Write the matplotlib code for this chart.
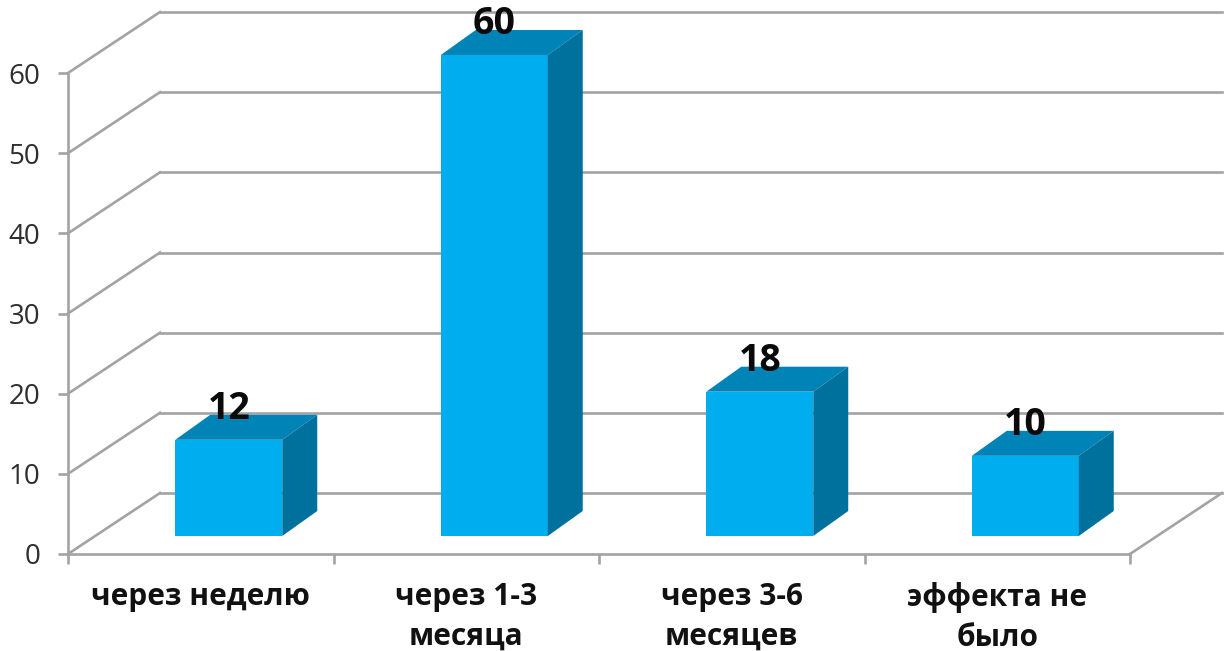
import matplotlib
matplotlib.use('Agg')
import matplotlib.pyplot as plt
from matplotlib.patches import Polygon
from matplotlib.transforms import Affine2D

categories = ['через неделю', 'через 1-3\nмесяца', 'через 3-6\nмесяцев', 'эффекта не\nбыло']
values = [12, 60, 18, 10]
y_ticks = [0, 10, 20, 30, 40, 50, 60]

W, H = 1224, 651
GRID = '#a3a3a3'
LW = 1.9
FRONT, TOP, SIDE = '#00aeef', '#0084b7', '#00709c'

plt.rcParams['font.family'] = ['Open Sans', 'DejaVu Sans']

fig = plt.figure(figsize=(W / 100, H / 100), dpi=100)
ax = fig.add_axes([68 / W, 1 - 554 / H, (1130 - 68) / W, (554 - 73) / H])
ax.set_xlim(0, len(values))
ax.set_ylim(0, 60)
ax.patch.set_alpha(0)

# pixel shifts into the depth of the box: back wall, bar front, bar back
back = ax.transData + Affine2D().translate(92, 61)
bar_front = ax.transData + Affine2D().translate(28, 18)
bar_back = ax.transData + Affine2D().translate(63, 43)

for s in ['top', 'right']:
    ax.spines[s].set_visible(False)
for s in ['left', 'bottom']:
    ax.spines[s].set_color(GRID)
    ax.spines[s].set_linewidth(LW)

ax.set_yticks(y_ticks)
ax.set_xticks(range(len(values) + 1))
ax.set_xticklabels([])
ax.tick_params(axis='both', which='major', color=GRID, width=LW, length=7)
ax.tick_params(axis='y', labelsize=20, labelcolor='#2e2e2e', pad=13)

# category names sit on minor ticks in the middle of each slot
ax.set_xticks([i + 0.5 for i in range(len(values))], minor=True)
ax.set_xticklabels(categories, minor=True, fontsize=21.5, fontweight='bold', color='#111111', linespacing=1.4)
ax.tick_params(axis='x', which='minor', length=0, pad=20.5)

# wall and floor lines
for v in y_ticks:
    ax.plot([0, len(values)], [v, v], transform=back, color=GRID, lw=LW, clip_on=False, zorder=1)
    # diagonal from the axis to the back wall
    p0 = ax.transData.transform((0, v))
    p1 = back.transform((0, v))
    ax.plot([p0[0], p1[0]], [p0[1], p1[1]], transform=None, color=GRID, lw=LW, clip_on=False, zorder=1)
p0 = ax.transData.transform((len(values), 0))
p1 = back.transform((len(values), 0))
ax.plot([p0[0], p1[0]], [p0[1], p1[1]], transform=None, color=GRID, lw=LW, clip_on=False, zorder=1)

bar_w = 0.403
for i, v in enumerate(values):
    x0, x1 = i + 0.5 - bar_w / 2, i + 0.5 + bar_w / 2
    ax.add_patch(Polygon([(x0, 0), (x1, 0), (x1, v), (x0, v)], transform=bar_front,
                         facecolor=FRONT, edgecolor='none', clip_on=False, zorder=3))
    # top and side faces run between the front and back planes of the bar
    f = bar_front.transform([(x0, v), (x1, v), (x1, 0)])
    b = bar_back.transform([(x0, v), (x1, v), (x1, 0)])
    ax.add_patch(Polygon([f[0], f[1], b[1], b[0]], transform=None,
                         facecolor=TOP, edgecolor='none', clip_on=False, zorder=3))
    ax.add_patch(Polygon([f[1], f[2], b[2], b[1]], transform=None,
                         facecolor=SIDE, edgecolor='none', clip_on=False, zorder=3))
    ax.annotate(str(v), xy=(i + 0.5, v), xycoords=bar_front, xytext=(0, 31), textcoords='offset pixels',
                ha='center', va='center', fontsize=27, fontweight='bold', color='#0a0a0a',
                annotation_clip=False, zorder=5)

fig.savefig('out.png', dpi=100)
